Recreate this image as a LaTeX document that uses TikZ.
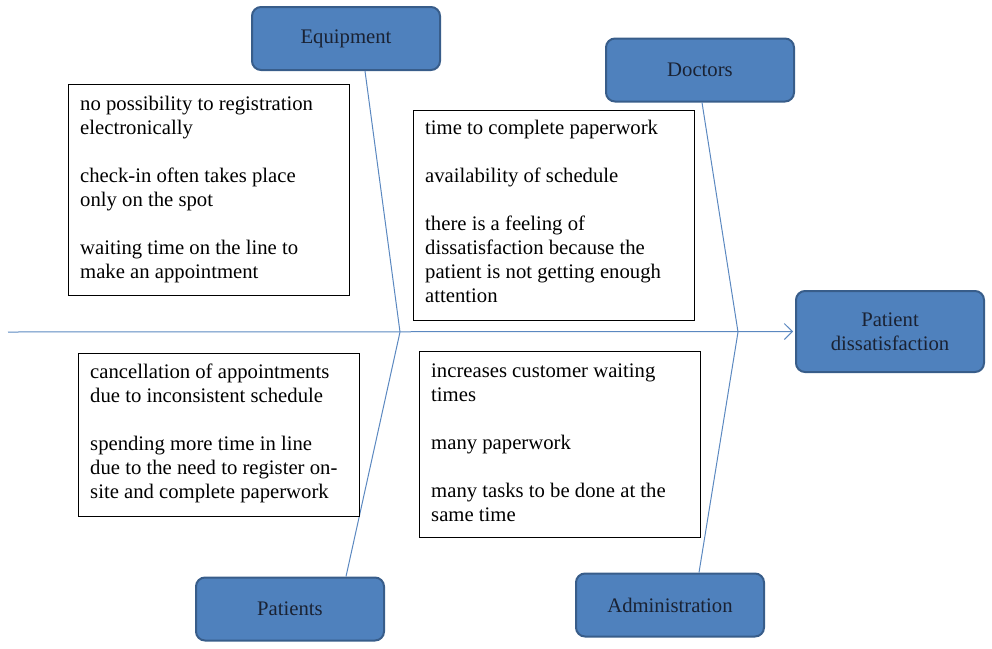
\documentclass[tikz,border=0pt]{standalone}
\usepackage{fontspec}
\setmainfont{Liberation Serif}
\usetikzlibrary{arrows.meta}
\definecolor{boxfill}{HTML}{4F81BD}
\definecolor{boxline}{HTML}{385D8A}
\definecolor{bone}{HTML}{5B88C0}
\definecolor{labeltext}{HTML}{1A2233}
\begin{document}
\begin{tikzpicture}[x=1pt,y=-1pt,
  cat/.style={draw=boxline,line width=2pt,fill=boxfill,rounded corners=9pt,
    minimum width=188pt,minimum height=63pt,align=center,inner sep=0pt,
    font=\fontsize{20.7}{24}\selectfont,text=labeltext},
  causebox/.style={draw=black,line width=0.9pt,fill=white},
  causetext/.style={anchor=north west,align=left,inner sep=0pt,
    font=\fontsize{20.7}{24}\selectfont},
  bonel/.style={draw=bone,line width=1pt}]
\useasboundingbox (0,0) rectangle (992,648);
% category boxes
\node[cat] (eq) at (346,38.5) {\raisebox{-2pt}{Equipment}};
\node[cat] (doc) at (700,70) {\raisebox{-1pt}{Doctors}};
\node[cat,minimum height=81pt] (pd) at (890,331.5) {\raisebox{-1pt}{Patient}\\\raisebox{-1pt}{dissatisfaction}};
\node[cat] (pat) at (290,609) {\raisebox{-1pt}{Patients}};
\node[cat] (adm) at (670,605) {Administration};
% spine
\coordinate (tail) at (8,332);
\coordinate (j1) at (400,332);
\coordinate (j2) at (738,332);
\draw[bonel,-{Straight Barb[length=8pt,width=16pt,line width=1pt]}] (tail) -- ([xshift=-2pt]pd.west);
% bones
\draw[bonel] ([xshift=19pt]eq.south) -- (j1);
\draw[bonel] ([xshift=56pt]pat.north) -- (j1);
\draw[bonel] ([xshift=2pt]doc.south) -- (j2);
\draw[bonel] ([xshift=29pt]adm.north) -- (j2);
% cause boxes
\draw[causebox] (68,84) rectangle (349,295);
\node[causetext] (t1) at (80,96) {no possibility to registration\\electronically\\[24pt]check-in often takes place\\only on the spot\\[24pt]waiting time on the line to\\make an appointment};
\draw[causebox] (413,110) rectangle (694,320);
\node[causetext] (t2) at (425,120) {time to complete paperwork\\[24pt]availability of schedule\\[24pt]there is a feeling of\\dissatisfaction because the\\patient is not getting enough\\attention};
\draw[causebox] (78,353) rectangle (359,516);
\node[causetext] (t3) at (90,364) {cancellation of appointments\\due to inconsistent schedule\\[24pt]spending more time in line\\due to the need to register on-\\site and complete paperwork};
\draw[causebox] (419,351) rectangle (700,537);
\node[causetext] (t4) at (431,364) {increases customer waiting\\times\\[24pt]many paperwork\\[24pt]many tasks to be done at the\\same time};
\end{tikzpicture}
\end{document}
